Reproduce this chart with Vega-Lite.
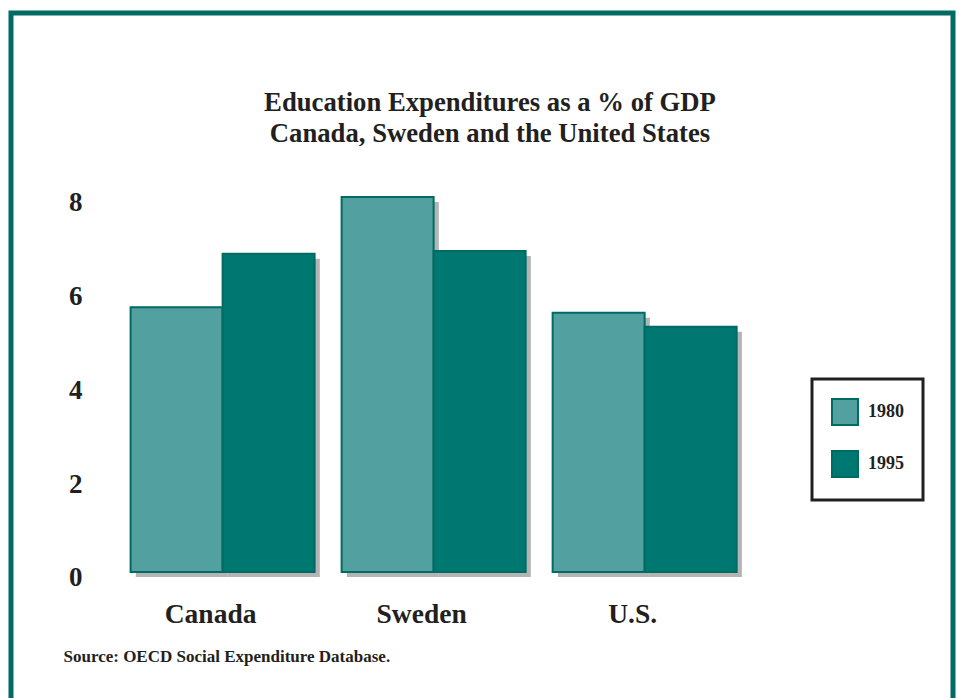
{
  "$schema": "https://vega.github.io/schema/vega-lite/v6.json",
  "width": 942,
  "height": 700,
  "autosize": {"type": "none"},
  "padding": {"left": 11, "top": 13, "right": 6, "bottom": 0},
  "background": "white",
  "config": {
    "view": {"stroke": "#006b63", "strokeWidth": 5},
    "font": "Liberation Serif"
  },
  "title": {
    "text": ["Education Expenditures as a % of GDP", "Canada, Sweden and the United States"],
    "font": "Liberation Serif",
    "fontSize": 26.7,
    "fontWeight": "bold",
    "color": "#231f20",
    "lineHeight": 31,
    "offset": -135,
    "dx": 8,
    "anchor": "middle"
  },
  "data": {
    "values": [
      {"country": "Canada", "year": "1980", "value": 5.65},
      {"country": "Canada", "year": "1995", "value": 6.79},
      {"country": "Sweden", "year": "1980", "value": 8.0},
      {"country": "Sweden", "year": "1995", "value": 6.85},
      {"country": "U.S.", "year": "1980", "value": 5.53},
      {"country": "U.S.", "year": "1995", "value": 5.23}
    ]
  },
  "encoding": {
    "x": {
      "field": "country",
      "type": "nominal",
      "sort": ["Canada", "Sweden", "U.S."],
      "scale": {"paddingInner": 0.128, "paddingOuter": 0.796, "align": 0.356},
      "axis": {
        "orient": "bottom",
        "offset": -113,
        "domain": false,
        "ticks": false,
        "tickSize": 0,
        "labelAngle": 0,
        "labelPadding": 0,
        "labelBaseline": "top",
        "labelOffset": -12,
        "labelFont": "Liberation Serif",
        "labelFontSize": 27.5,
        "labelFontWeight": "bold",
        "labelColor": "#231f20",
        "title": "Source: OECD Social Expenditure Database.",
        "titleFont": "Liberation Serif",
        "titleFontSize": 17,
        "titleFontWeight": "bold",
        "titleColor": "#231f20",
        "titleAnchor": "start",
        "titleAlign": "left",
        "titleBaseline": "middle",
        "titleX": 52,
        "titleY": 56
      }
    },
    "xOffset": {"field": "year", "type": "nominal", "sort": ["1980", "1995"]},
    "y": {
      "field": "value",
      "type": "quantitative",
      "scale": {"domain": [-3.008, 11.925], "nice": false, "zero": false},
      "axis": {
        "orient": "left",
        "offset": -71,
        "values": [0, 2, 4, 6, 8],
        "domain": false,
        "ticks": false,
        "tickSize": 0,
        "grid": false,
        "labelPadding": 0,
        "labelOffset": 6,
        "labelFont": "Liberation Serif",
        "labelFontSize": 27,
        "labelFontWeight": "bold",
        "labelColor": "#231f20",
        "title": null
      }
    },
    "y2": {"datum": 0}
  },
  "layer": [
    {
      "mark": {"type": "bar", "color": "#b4b4b4", "yOffset": 5, "y2Offset": 5},
      "encoding": {
        "x": {
          "field": "country",
          "type": "nominal",
          "sort": ["Canada", "Sweden", "U.S."],
          "scale": {"paddingInner": 0.128, "paddingOuter": 0.796, "align": 0.3715},
          "axis": null
        }
      }
    },
    {
      "mark": {"type": "bar", "stroke": "#006b63", "strokeWidth": 2, "opacity": 1},
      "encoding": {
        "color": {
          "field": "year",
          "type": "nominal",
          "scale": {"domain": ["1980", "1995"], "range": ["#53a0a0", "#007872"]},
          "legend": {
            "orient": "none",
            "legendX": 801,
            "legendY": 366,
            "title": null,
            "strokeColor": "#231f20",
            "fillColor": "white",
            "padding": 19,
            "symbolType": "square",
            "symbolSize": 676,
            "symbolStrokeColor": "#006b63",
            "symbolStrokeWidth": 2,
            "symbolOpacity": 1,
            "labelFont": "Liberation Serif",
            "labelFontSize": 18,
            "labelFontWeight": "bold",
            "labelColor": "#231f20",
            "labelOffset": 9,
            "rowPadding": 18,
            "encode": {"legend": {"update": {"strokeWidth": {"value": 3}}}}
          }
        }
      }
    }
  ],
  "resolve": {"scale": {"x": "independent", "xOffset": "independent"}}
}
